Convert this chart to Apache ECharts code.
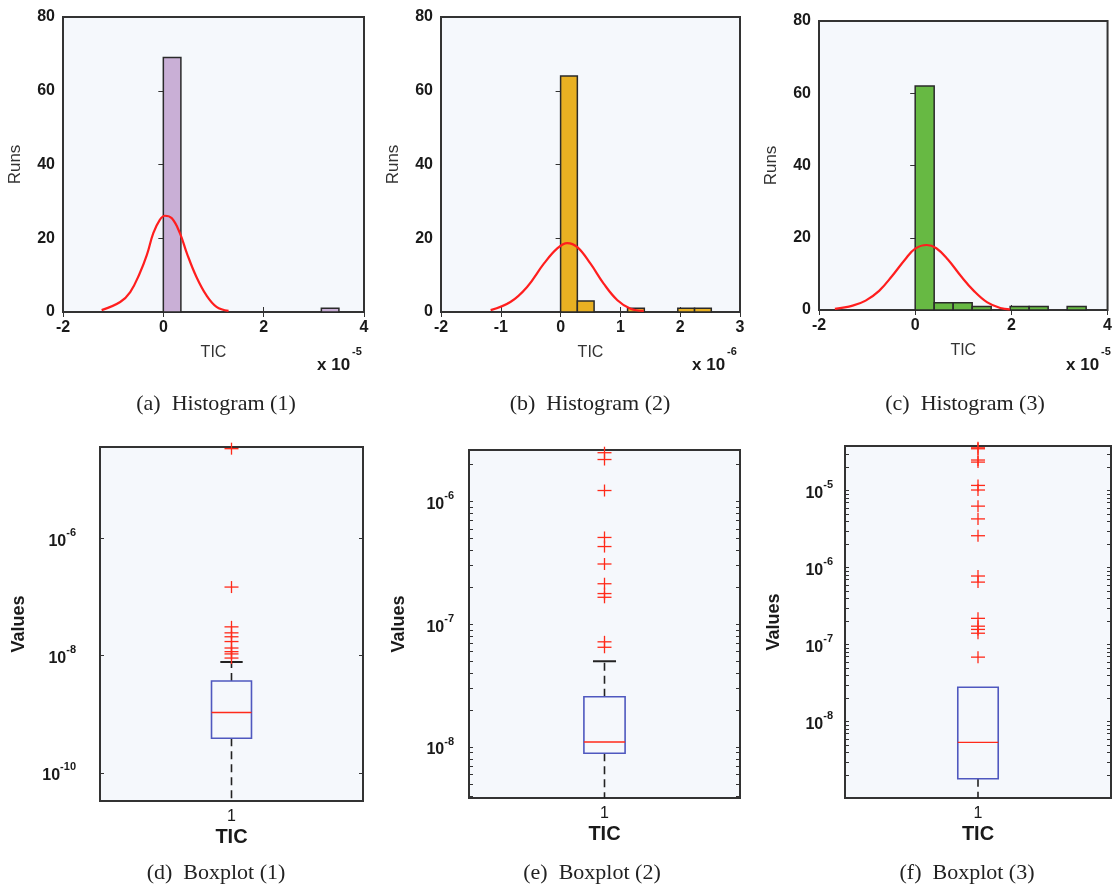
<!DOCTYPE html>
<html>
<head>
<meta charset="utf-8">
<title>TIC histograms and boxplots</title>
<script src="https://cdn.jsdelivr.net/npm/echarts@6/dist/echarts.min.js"></script>
<style>
  html, body { margin: 0; padding: 0; background: #fff; }
  #chart { width: 1115px; height: 888px; }
</style>
</head>
<body>
<div id="chart"></div>
<script>
// ---- histograms: bin starts / counts, x in units of the axis multiplier ----
const binStartsA = [0, 0.35, 0.70, 1.05, 1.40, 1.75, 2.10, 2.45, 2.80, 3.15];
const binWidthA = 0.35;
const countsA = [69, 0, 0, 0, 0, 0, 0, 0, 0, 1];
const fitA = [[-1.23, 0.5], [-0.86, 2.7], [-0.66, 5.4], [-0.47, 10.5], [-0.33, 15.4], [-0.20, 21.4],
  [-0.07, 25], [0.03, 26.1], [0.17, 25.4], [0.33, 21.4], [0.47, 15.9], [0.66, 9.5], [0.86, 4.5],
  [1.06, 1.4], [1.30, 0.3]];

const binStartsB = [0, 0.28, 0.56, 0.84, 1.12, 1.40, 1.68, 1.96, 2.24];
const binWidthB = 0.28;
const countsB = [64, 3, 0, 0, 1, 0, 0, 1, 1];
const fitB = [[-1.17, 0.5], [-0.84, 2.7], [-0.56, 6.8], [-0.28, 13.1], [-0.06, 17.2], [0.11, 18.7],
  [0.28, 17.6], [0.50, 13.1], [0.72, 7.7], [0.95, 3.2], [1.17, 0.9], [1.39, 0.3]];

const binStartsC = [0, 0.395, 0.79, 1.185, 1.58, 1.975, 2.37, 2.765, 3.16];
const binWidthC = 0.395;
const countsC = [62, 2, 2, 1, 0, 1, 1, 0, 1];
const fitC = [[-1.67, 0.3], [-1.30, 1.2], [-1.03, 2.6], [-0.75, 5.3], [-0.48, 9.4], [-0.21, 14.0],
  [0.0, 17.0], [0.24, 18.0], [0.44, 17.1], [0.68, 14.0], [0.95, 9.4], [1.22, 5.3], [1.50, 2.1],
  [1.77, 0.55], [1.97, 0.2]];

// ---- boxplots: [lower whisker, q1, median, q3, upper whisker] and outliers ----
const boxD = [2e-11, 3.9e-10, 1.07e-9, 3.7e-9, 7.8e-9];
const outliersD = [3.4e-5, 1.48e-7, 3.1e-8, 2.45e-8, 2.1e-8, 1.74e-8, 1.35e-8, 1.17e-8, 1.07e-8, 9.1e-9];
const boxE = [3.2e-9, 8.9e-9, 1.1e-8, 2.57e-8, 5.0e-8];
const outliersE = [2.5e-6, 2.2e-6, 1.23e-6, 5.1e-7, 4.3e-7, 3.1e-7, 2.14e-7, 1.78e-7, 1.66e-7, 7.2e-8, 6.5e-8];
const boxF = [8e-10, 1.82e-9, 5.4e-9, 2.8e-8, 2.8e-8];
const outliersF = [3.6e-5, 3.5e-5, 2.5e-5, 2.35e-5, 1.17e-5, 1.02e-5, 6.3e-6, 4.3e-6, 2.6e-6, 7.8e-7,
  6.5e-7, 2.2e-7, 1.74e-7, 1.58e-7, 1.41e-7, 6.9e-8];

// tick labels (exponents of ten) on the boxplot axes
const decadeLabelsD = [-10, -8, -6];
const decadeLabelsE = [-8, -7, -6];
const decadeLabelsF = [-8, -7, -6, -5];

const tickFont = 'Liberation Sans, Arial, sans-serif';
const frameColor = '#333';
const plotBg = '#f5f8fc';

const histPanels = [
  { grid: { left: 63, top: 17, width: 301, height: 295 }, xMin: -2, xMax: 4, xStep: 2,
    starts: binStartsA, width: binWidthA, counts: countsA, fit: fitA, color: '#c9afd6' },
  { grid: { left: 441, top: 17, width: 299, height: 295 }, xMin: -2, xMax: 3, xStep: 1,
    starts: binStartsB, width: binWidthB, counts: countsB, fit: fitB, color: '#e8b022' },
  { grid: { left: 819, top: 21, width: 293, height: 289 }, xMin: -2, xMax: 4, xStep: 2,
    starts: binStartsC, width: binWidthC, counts: countsC, fit: fitC, color: '#67b943' }
];

// minor: 'none' = ticks only on labelled decades, 'log' = full log ticks
const boxPanels = [
  { grid: { left: 100, top: 447, width: 263, height: 354 }, range: [-10.48, -4.44],
    stats: boxD, outliers: outliersD, labels: decadeLabelsD, minor: 'none', labelMargin: 24, nameGap: 72 },
  { grid: { left: 469, top: 450, width: 271, height: 348 }, range: [-8.415, -5.58],
    stats: boxE, outliers: outliersE, labels: decadeLabelsE, minor: 'log', labelMargin: 15, nameGap: 61 },
  { grid: { left: 845, top: 446, width: 266, height: 352 }, range: [-8.99, -4.42],
    stats: boxF, outliers: outliersF, labels: decadeLabelsF, minor: 'log', labelMargin: 12, nameGap: 62 }
];

// log-axis tick positions (in exponent space) inside a range
function logTickValues(range) {
  const out = [];
  for (let n = Math.floor(range[0]); n <= Math.ceil(range[1]); n++) {
    [1, 2, 3, 4, 5, 6, 7, 8, 9].forEach(k => {
      const v = n + Math.log10(k);
      if (v >= range[0] && v <= range[1]) out.push(v);
    });
  }
  return out;
}

const grids = [];
const xAxes = [];
const yAxes = [];
const series = [];

const mirrorTick = { show: true, inside: true, length: 5, lineStyle: { color: frameColor, width: 1 } };

histPanels.forEach((p) => {
  grids.push(Object.assign({ show: true, backgroundColor: plotBg, borderColor: frameColor, borderWidth: 2 }, p.grid));
  const gi = grids.length - 1;
  xAxes.push({
    gridIndex: gi, type: 'value', min: p.xMin, max: p.xMax, interval: p.xStep,
    axisLine: { show: false }, splitLine: { show: false },
    axisTick: mirrorTick,
    axisLabel: { fontFamily: tickFont, fontWeight: 'bold', fontSize: 16, color: '#1a1a1a', margin: 8 },
    name: 'TIC', nameLocation: 'middle', nameGap: 33,
    nameTextStyle: { fontFamily: tickFont, fontSize: 16, color: '#333' }
  });
  xAxes.push({
    gridIndex: gi, type: 'value', position: 'top', min: p.xMin, max: p.xMax, interval: p.xStep,
    axisLine: { show: false }, splitLine: { show: false }, axisTick: mirrorTick, axisLabel: { show: false }
  });
  yAxes.push({
    gridIndex: gi, type: 'value', min: 0, max: 80, interval: 20,
    axisLine: { show: false }, splitLine: { show: false }, axisTick: mirrorTick,
    axisLabel: { fontFamily: tickFont, fontWeight: 'bold', fontSize: 16, color: '#1a1a1a', margin: 8 },
    name: 'Runs', nameLocation: 'middle', nameGap: 39,
    nameTextStyle: { fontFamily: tickFont, fontSize: 17, color: '#333' }
  });
  yAxes.push({
    gridIndex: gi, type: 'value', position: 'right', min: 0, max: 80, interval: 20,
    axisLine: { show: false }, splitLine: { show: false }, axisTick: mirrorTick, axisLabel: { show: false }
  });

  const bars = p.starts.map((s, k) => [s, s + p.width, p.counts[k]]).filter(d => d[2] > 0);
  series.push({
    type: 'custom', xAxisIndex: 2 * gi, yAxisIndex: 2 * gi, data: bars,
    encode: { x: [0, 1], y: 2 },
    renderItem: (params, api) => {
      const a = api.coord([api.value(0), api.value(2)]);
      const b = api.coord([api.value(1), 0]);
      return {
        type: 'rect',
        shape: { x: a[0], y: a[1], width: b[0] - a[0], height: b[1] - a[1] },
        style: { fill: p.color, stroke: '#2a2a2a', lineWidth: 1.5 }
      };
    },
    z: 2
  });
  series.push({
    type: 'line', xAxisIndex: 2 * gi, yAxisIndex: 2 * gi, data: p.fit,
    smooth: 0.4, showSymbol: false, lineStyle: { color: '#ff1e1e', width: 2.2 }, z: 3
  });
});

boxPanels.forEach((p) => {
  grids.push(Object.assign({ show: true, backgroundColor: plotBg, borderColor: frameColor, borderWidth: 2 }, p.grid));
  const gi = grids.length - 1;
  const ticks = p.minor === 'log' ? logTickValues(p.range) : p.labels;
  xAxes.push({
    gridIndex: gi, type: 'category', data: ['1'],
    axisLine: { show: false }, axisTick: { show: false },
    axisLabel: { fontFamily: tickFont, fontSize: 16, color: '#1a1a1a', margin: 8 },
    name: 'TIC', nameLocation: 'middle', nameGap: 26,
    nameTextStyle: { fontFamily: tickFont, fontSize: 20, fontWeight: 'bold', color: '#1a1a1a' }
  });
  xAxes.push({
    gridIndex: gi, type: 'category', data: ['1'], position: 'top',
    axisLine: { show: false }, axisTick: { show: false }, axisLabel: { show: false }
  });
  yAxes.push({
    gridIndex: gi, type: 'value', min: p.range[0], max: p.range[1],
    axisLine: { show: false }, splitLine: { show: false },
    axisTick: { show: true, inside: true, length: 4, customValues: ticks, lineStyle: { color: frameColor } },
    axisLabel: {
      customValues: p.labels, margin: p.labelMargin,
      formatter: v => '{b|10}{s|' + Math.round(v) + '}',
      rich: {
        b: { fontFamily: tickFont, fontWeight: 'bold', fontSize: 16, color: '#1a1a1a', lineHeight: 22, verticalAlign: 'bottom' },
        s: { fontFamily: tickFont, fontWeight: 'bold', fontSize: 11, color: '#1a1a1a', lineHeight: 11, verticalAlign: 'top' }
      }
    },
    name: 'Values', nameLocation: 'middle', nameGap: p.nameGap,
    nameTextStyle: { fontFamily: tickFont, fontSize: 18, fontWeight: 'bold', color: '#1a1a1a' }
  });
  yAxes.push({
    gridIndex: gi, type: 'value', position: 'right', min: p.range[0], max: p.range[1],
    axisLine: { show: false }, splitLine: { show: false },
    axisTick: { show: true, inside: true, length: 4, customValues: ticks, lineStyle: { color: frameColor } },
    axisLabel: { show: false }
  });

  const st = p.stats.map(v => Math.log10(v));
  series.push({
    type: 'custom', xAxisIndex: 2 * gi, yAxisIndex: 2 * gi, clip: true,
    data: [[0].concat(st)],
    encode: { x: 0, y: [1, 2, 3, 4, 5] },
    renderItem: (params, api) => {
      const band = api.size([1, 0])[0];
      const bw = band * 0.152;
      const x = api.coord([0, api.value(3)])[0];
      const y = k => api.coord([0, api.value(k)])[1];
      const yLo = y(1), yQ1 = y(2), yMed = y(3), yQ3 = y(4), yHi = y(5);
      const dash = { stroke: '#222', lineWidth: 1.6, lineDash: [8, 5] };
      const cap = { stroke: '#222', lineWidth: 2 };
      const parts = [];
      // whiskers with caps, skipped when the whisker ends at the box
      if (yQ1 - yLo < -0.5) {
        parts.push({ type: 'line', shape: { x1: x, y1: yQ1, x2: x, y2: yLo }, style: dash });
        parts.push({ type: 'line', shape: { x1: x - bw * 0.28, y1: yLo, x2: x + bw * 0.28, y2: yLo }, style: cap });
      }
      if (yQ3 - yHi > 0.5) {
        parts.push({ type: 'line', shape: { x1: x, y1: yQ3, x2: x, y2: yHi }, style: dash });
        parts.push({ type: 'line', shape: { x1: x - bw * 0.28, y1: yHi, x2: x + bw * 0.28, y2: yHi }, style: cap });
      }
      parts.push({ type: 'rect', shape: { x: x - bw / 2, y: yQ3, width: bw, height: yQ1 - yQ3 },
        style: { fill: 'none', stroke: '#4f58bf', lineWidth: 1.6 } });
      parts.push({ type: 'line', shape: { x1: x - bw / 2, y1: yMed, x2: x + bw / 2, y2: yMed },
        style: { stroke: '#ff2a1a', lineWidth: 1.4 } });
      return { type: 'group', children: parts };
    },
    z: 3
  });
  series.push({
    type: 'custom', xAxisIndex: 2 * gi, yAxisIndex: 2 * gi, clip: false,
    data: p.outliers.map(v => [0, Math.log10(v)]),
    encode: { x: 0, y: 1 },
    renderItem: (params, api) => {
      const c = api.coord([0, api.value(1)]);
      const st = { stroke: '#ff2a1a', lineWidth: 1.3 };
      return {
        type: 'group',
        children: [
          { type: 'line', shape: { x1: c[0] - 7, y1: c[1], x2: c[0] + 7, y2: c[1] }, style: st },
          { type: 'line', shape: { x1: c[0], y1: c[1] - 6, x2: c[0], y2: c[1] + 6 }, style: st }
        ]
      };
    },
    z: 4
  });
});

// captions and the x-axis multipliers
const captionFont = '22px "Liberation Serif", "Times New Roman", serif';
const captions = [
  ['(a)  Histogram (1)', 216, 404], ['(b)  Histogram (2)', 590, 404], ['(c)  Histogram (3)', 965, 404],
  ['(d)  Boxplot (1)', 216, 873], ['(e)  Boxplot (2)', 592, 873], ['(f)  Boxplot (3)', 967, 873]
];
const multipliers = [['-5', 317, 365], ['-6', 692, 365], ['-5', 1066, 365]];

const graphic = captions.map(c => ({
  type: 'text', x: c[1], y: c[2],
  style: { text: c[0], font: captionFont, fill: '#222', align: 'center', verticalAlign: 'middle' }
}));
multipliers.forEach(m => {
  graphic.push({
    type: 'text', x: m[1], y: m[2],
    style: { text: 'x 10', font: 'bold 17px ' + tickFont, fill: '#1a1a1a', align: 'left', verticalAlign: 'middle' }
  });
  graphic.push({
    type: 'text', x: m[1] + 35, y: m[2] - 13,
    style: { text: m[0], font: 'bold 11px ' + tickFont, fill: '#1a1a1a', align: 'left', verticalAlign: 'middle' }
  });
});

const chart = echarts.init(document.getElementById('chart'), null, { renderer: 'canvas' });
chart.setOption({
  backgroundColor: '#fff',
  animation: false,
  grid: grids,
  xAxis: xAxes,
  yAxis: yAxes,
  series: series,
  graphic: graphic
});
</script>
</body>
</html>
